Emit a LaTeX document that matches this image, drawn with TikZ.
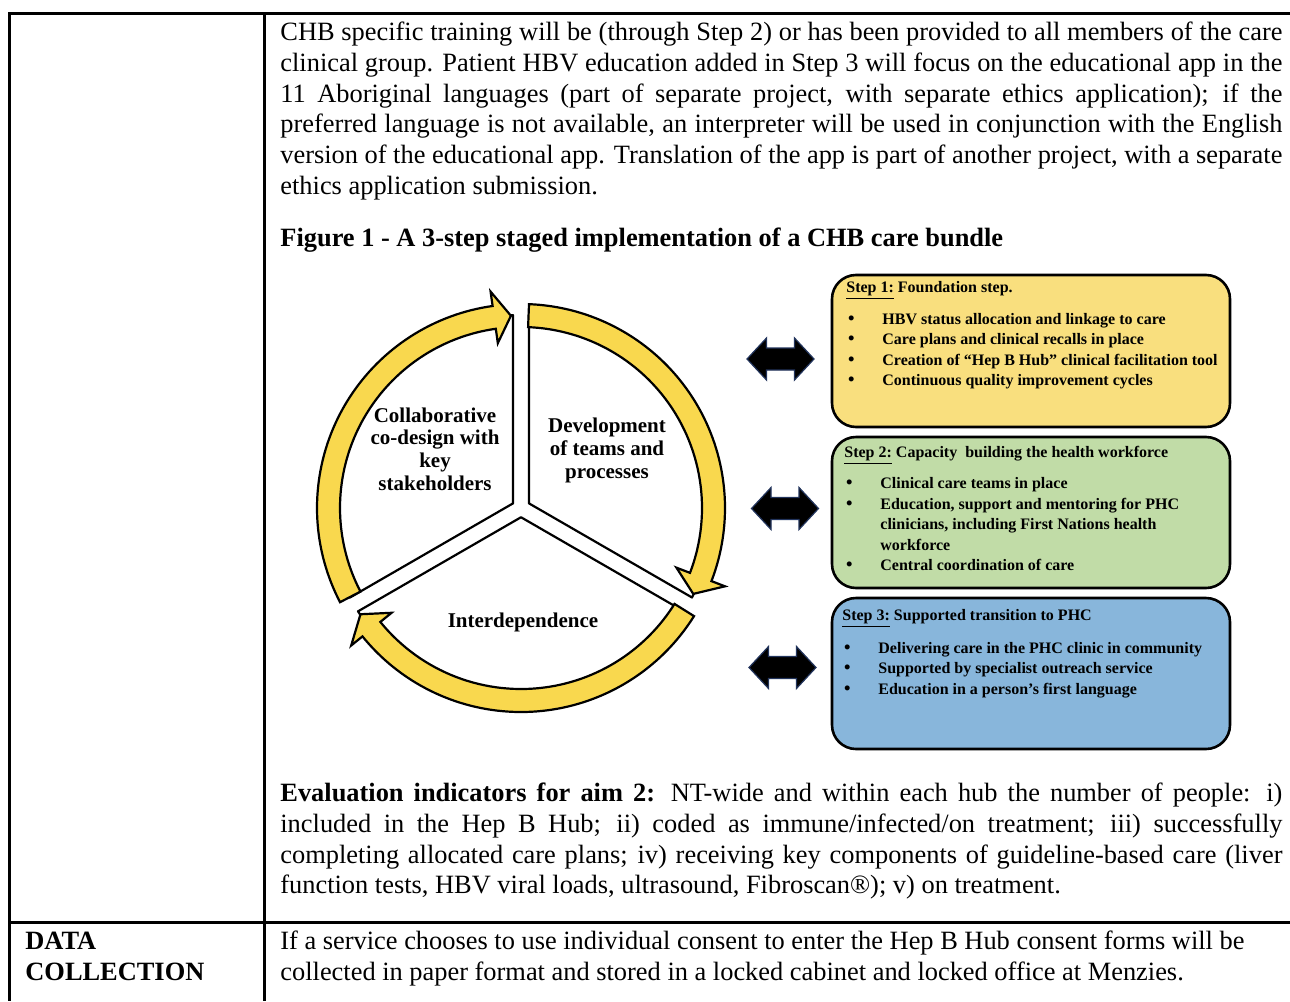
\documentclass[tikz,border=0pt]{standalone}
\usepackage{fontspec}
\setmainfont{Liberation Serif}

\definecolor{ringyellow}{HTML}{F9D84E}
\definecolor{stepone}{HTML}{F9DF7E}
\definecolor{steptwo}{HTML}{C1DCA7}
\definecolor{stepthree}{HTML}{88B6DB}
\definecolor{arrowrim}{HTML}{22345C}

\newcommand\tablefont{\fontsize{13.2}{15.4}\selectfont}
\newcommand\ringfont{\fontsize{10.5}{11.3}\selectfont\bfseries}
\newcommand\stepfont{\fontsize{8}{10.25}\selectfont\bfseries}
% one fully justified line of the table text
\newcommand\fullline[1]{\hbox to 501pt{#1}}
% bullet and continuation lines inside the step boxes
\newcommand\boxbullet[1]{\hbox{\hspace*{0.8pt}\makebox[17.2pt][l]{\scalebox{1.15}{\textbullet}}#1}}
\newcommand\boxcont[1]{\hbox{\hspace*{18pt}#1}}

\tikzset{
  dblarrow/.pic={
    \filldraw[fill=black, draw=arrowrim, line width=0.6pt]
      (-33.5,0) -- (-14,-21) -- (-14,-11) -- (14,-11) -- (14,-21) -- (33.5,0)
      -- (14,21) -- (14,11) -- (-14,11) -- (-14,21) -- cycle;
  }
}

\begin{document}
\begin{tikzpicture}[x=0.5pt, y=-0.5pt,
  tablerule/.style={line width=1.75pt},
  txt/.style={anchor=base west, inner sep=0pt, font=\tablefont},
  sector/.style={fill=white, draw=black, line width=1.1pt, line join=round},
  ringarrow/.style={fill=ringyellow, draw=black, line width=1.1pt},
  ringtext/.style={align=center, inner sep=0pt, font=\ringfont},
  stepbox/.style={draw=black, line width=1.3pt, rounded corners=12pt,
    minimum width=199pt, inner sep=0pt},
  steptext/.style={anchor=base west, inner sep=0pt, font=\stepfont},
]
\useasboundingbox (0,0) rectangle (1290,1001);

% table rules
\draw[tablerule] (8,13.5) -- (1290,13.5);
\draw[tablerule] (8,922.5) -- (1290,922.5);
\draw[tablerule] (9.5,12.6) -- (9.5,1001);
\draw[tablerule] (264.5,12.6) -- (264.5,1001);

% upper right cell: text
\node[txt] (intro) at (280,40.5) {\parbox[t]{501pt}{%
\fullline{CHB specific training will be (through Step 2) or has been provided to all members of the care}
\fullline{clinical group. Patient HBV education added in Step 3 will focus on the educational app in the}
\fullline{11 Aboriginal languages (part of separate project, with separate ethics application); if the}
\fullline{preferred language is not available, an interpreter will be used in conjunction with the English}
\fullline{version of the educational app. Translation of the app is part of another project, with a separate}
\hbox{ethics application submission.}}};

\node[txt] (figtitle) at (280,246) {\textbf{Figure 1 - A 3-step staged implementation of a CHB care bundle}};

\node[txt] (evaluation) at (280,801.5) {\parbox[t]{501pt}{%
\fullline{\textbf{Evaluation indicators for aim 2:} NT-wide and within each hub the number of people: i)}
\fullline{included in the Hep B Hub; ii) coded as immune/infected/on treatment; iii) successfully}
\fullline{completing allocated care plans; iv) receiving key components of guideline-based care (liver}
\hbox{function tests, HBV viral loads, ultrasound, Fibroscan®); v) on treatment.}}};

% lower row
\node[txt] (rowhead) at (25,949.5) {\parbox[t]{200pt}{\bfseries DATA\\COLLECTION}};
\node[txt] (rowtext) at (280,949.5) {\parbox[t]{501pt}{%
If a service chooses to use individual consent to enter the Hep B Hub consent forms will be\\
collected in paper format and stored in a locked cabinet and locked office at Menzies.}};

% cycle of three stages
\begin{scope}[shift={(521,508)}, yscale=-1]
  \draw[sector] (-8,4.62) -- (92.375:193) arc[start angle=92.375, end angle=207.625, radius=193] -- cycle;
  \draw[sector] (8,4.62) -- (87.625:193) arc[start angle=87.625, end angle=-27.625, radius=193] -- cycle;
  \draw[sector] (0,-9.24) -- (212.375:193) arc[start angle=212.375, end angle=327.625, radius=193] -- cycle;

  \filldraw[ringarrow] (207.5:181) -- (207.5:204) arc[start angle=207.5, end angle=98, radius=204]
    -- (98:218.5) -- (93:192.5) -- (98:166.5) -- (98:181)
    arc[start angle=98, end angle=207.5, radius=181] -- cycle;
  \filldraw[ringarrow] (87.75:181) -- (87.75:204) arc[start angle=87.75, end angle=-21, radius=204]
    -- (-21:218.5) -- (-26.5:192.5) -- (-21:166.5) -- (-21:181)
    arc[start angle=-21, end angle=87.75, radius=181] -- cycle;
  \filldraw[ringarrow] (-32:181) -- (-32:204) arc[start angle=-32, end angle=-141, radius=204]
    -- (-141:218.5) -- (-146.5:192.5) -- (-141:166.5) -- (-141:181)
    arc[start angle=-141, end angle=-32, radius=181] -- cycle;
\end{scope}

\node[ringtext] (codesign) at (435,449) {Collaborative\\co-design with\\key\\stakeholders};
\node[ringtext] (teams) at (607,450.5) {Development\\of teams and\\processes};
\node[ringtext] (interdep) at (523,622.5) {Interdependence};

% step boxes
\node[stepbox, fill=stepone, minimum height=76pt] (step1) at (1031,351) {};
\node[stepbox, fill=steptwo, minimum height=75.5pt] (step2) at (1031,512.5) {};
\node[stepbox, fill=stepthree, minimum height=75.5pt] (step3) at (1031,673.5) {};

\node[steptext] (step1text) at (846,292.5) {\parbox[t]{195pt}{%
\underline{Step 1:} Foundation step.\par\vspace{5.6pt}
\boxbullet{HBV status allocation and linkage to care}
\boxbullet{Care plans and clinical recalls in place}
\boxbullet{Creation of “Hep B Hub” clinical facilitation tool}
\boxbullet{Continuous quality improvement cycles}}};

\node[steptext] (step2text) at (844,457) {\parbox[t]{195pt}{%
\underline{Step 2:} Capacity~ building the health workforce\par\vspace{5.6pt}
\boxbullet{Clinical care teams in place}
\boxbullet{Education, support and mentoring for PHC}
\boxcont{clinicians, including First Nations health}
\boxcont{workforce}
\boxbullet{Central coordination of care}}};

\node[steptext] (step3text) at (842,620.5) {\parbox[t]{195pt}{%
\underline{Step 3:} Supported transition to PHC\par\vspace{6pt}
\boxbullet{Delivering care in the PHC clinic in community}
\boxbullet{Supported by specialist outreach service}
\boxbullet{Education in a person’s first language}}};

% two-way links between the cycle and the steps
\pic (link1) at (780.5,359) {dblarrow};
\pic (link2) at (785,508.5) {dblarrow};
\pic (link3) at (782.5,667.5) {dblarrow};
\end{tikzpicture}
\end{document}
